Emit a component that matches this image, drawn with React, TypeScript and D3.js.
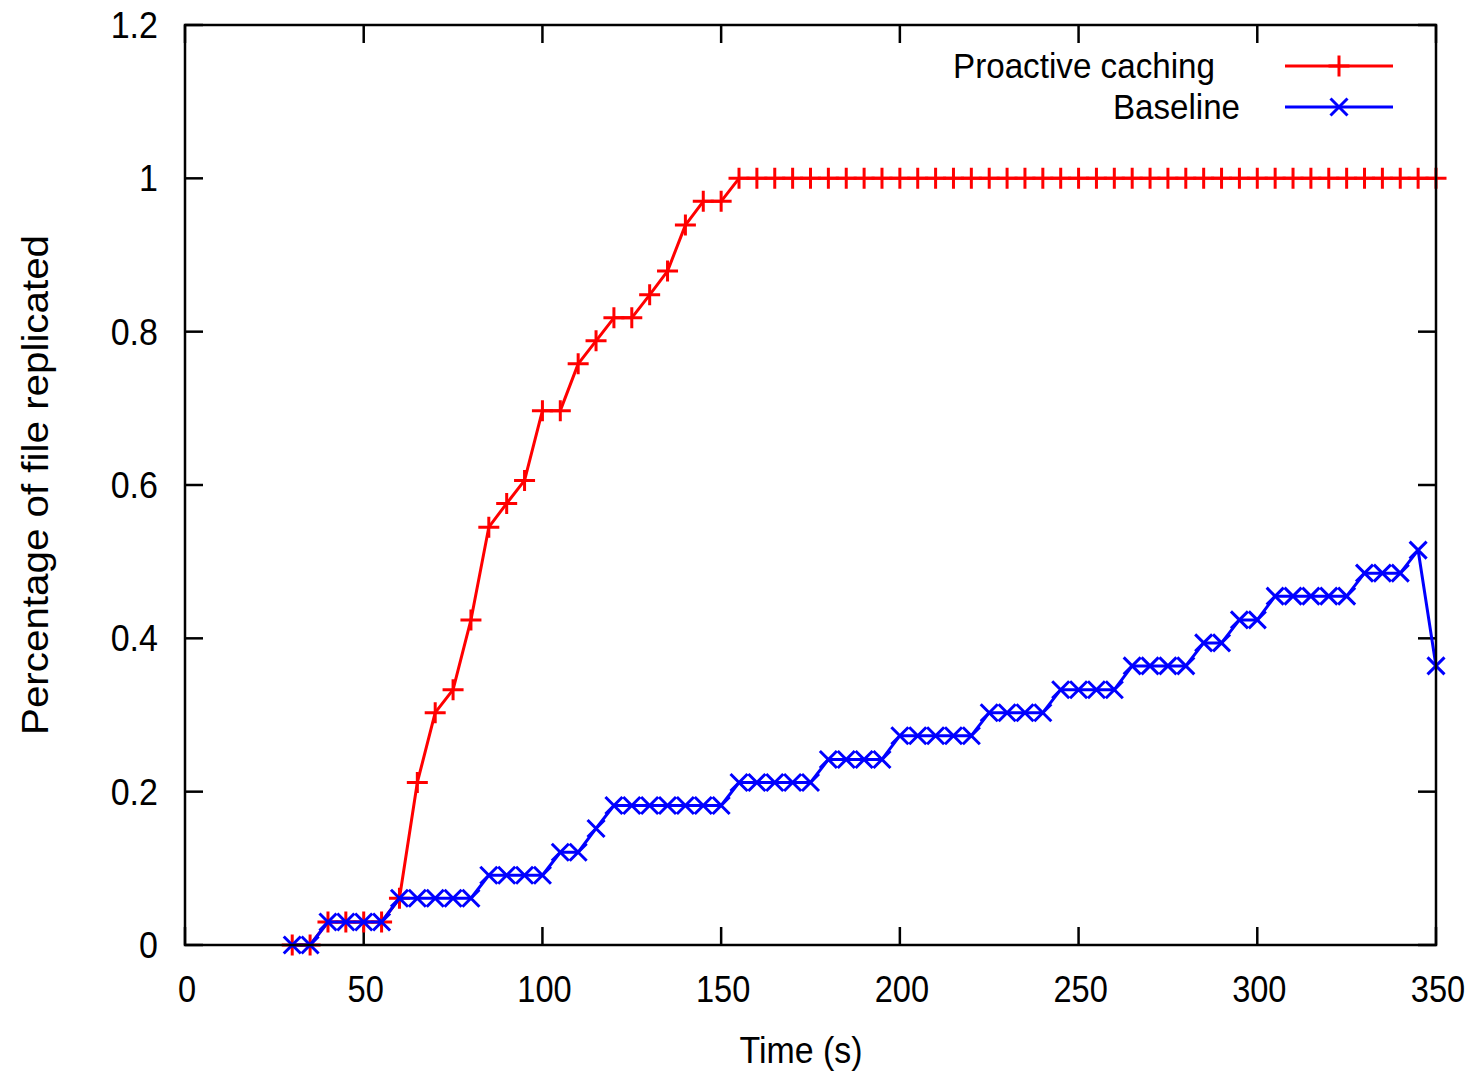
import React from "react";
import * as d3 from "d3";

const times = [30, 35, 40, 45, 50, 55, 60, 65, 70, 75, 80, 85, 90, 95, 100, 105, 110, 115, 120, 125, 130, 135, 140, 145, 150, 155, 160, 165, 170, 175, 180, 185, 190, 195, 200, 205, 210, 215, 220, 225, 230, 235, 240, 245, 250, 255, 260, 265, 270, 275, 280, 285, 290, 295, 300, 305, 310, 315, 320, 325, 330, 335, 340, 345, 350];

const proactive = [0, 0, 0.030, 0.030, 0.030, 0.030, 0.061, 0.212, 0.303, 0.333, 0.424, 0.545, 0.576, 0.606, 0.697, 0.697, 0.758, 0.788, 0.818, 0.818, 0.848, 0.879, 0.939, 0.970, 0.970, 1, 1, 1, 1, 1, 1, 1, 1, 1, 1, 1, 1, 1, 1, 1, 1, 1, 1, 1, 1, 1, 1, 1, 1, 1, 1, 1, 1, 1, 1, 1, 1, 1, 1, 1, 1, 1, 1, 1, 1];

const baseline = [0, 0, 0.030, 0.030, 0.030, 0.030, 0.061, 0.061, 0.061, 0.061, 0.061, 0.091, 0.091, 0.091, 0.091, 0.121, 0.121, 0.152, 0.182, 0.182, 0.182, 0.182, 0.182, 0.182, 0.182, 0.212, 0.212, 0.212, 0.212, 0.212, 0.242, 0.242, 0.242, 0.242, 0.273, 0.273, 0.273, 0.273, 0.273, 0.303, 0.303, 0.303, 0.303, 0.333, 0.333, 0.333, 0.333, 0.364, 0.364, 0.364, 0.364, 0.394, 0.394, 0.424, 0.424, 0.455, 0.455, 0.455, 0.455, 0.455, 0.485, 0.485, 0.485, 0.515, 0.364];

const xTicks = [0, 50, 100, 150, 200, 250, 300, 350];
const yTicks = [0, 0.2, 0.4, 0.6, 0.8, 1, 1.2];
const yTickLabels = ["0", "0.2", "0.4", "0.6", "0.8", "1", "1.2"];

const seriesNames = ["Proactive caching", "Baseline"];
const FONT = "'Liberation Sans', Arial, sans-serif";

export default function App() {
  const L = 185, R = 1436, T = 25, B = 945;
  const x = d3.scaleLinear().domain([0, 350]).range([L, R]);
  const y = d3.scaleLinear().domain([0, 1.2]).range([B, T]);
  const line = d3.line<number>().x((_, i) => x(times[i])).y((d) => y(d));
  const tickLen = 18;
  const plus = (cx: number, cy: number, k: string) => (
    <path key={k} d={`M${cx - 10.5},${cy}H${cx + 10.5}M${cx},${cy - 10.5}V${cy + 10.5}`} stroke="#ff0000" strokeWidth={3} fill="none" />
  );
  const cross = (cx: number, cy: number, k: string) => (
    <path key={k} d={`M${cx - 8.5},${cy - 8.5}L${cx + 8.5},${cy + 8.5}M${cx - 8.5},${cy + 8.5}L${cx + 8.5},${cy - 8.5}`} stroke="#0000ff" strokeWidth={3} fill="none" />
  );
  return (
    <svg width={1471} height={1073} style={{ position: "absolute", left: 0, top: 0, background: "#fff" }} fontFamily={FONT}>
      <rect x={0} y={0} width={1471} height={1073} fill="#fff" />
      {/* ticks */}
      {xTicks.map((t) => (
        <g key={"xt" + t}>
          <line x1={x(t)} x2={x(t)} y1={B} y2={B - tickLen} stroke="#000" strokeWidth={2.5} />
          <line x1={x(t)} x2={x(t)} y1={T} y2={T + tickLen} stroke="#000" strokeWidth={2.5} />
          <text transform={`translate(${x(t) + 2},1002) scale(0.88,1)`} fontSize={37} textAnchor="middle" fill="#000">{t}</text>
        </g>
      ))}
      {yTicks.map((t, i) => (
        <g key={"yt" + t}>
          <line x1={L} x2={L + tickLen} y1={y(t)} y2={y(t)} stroke="#000" strokeWidth={2.5} />
          <line x1={R} x2={R - tickLen} y1={y(t)} y2={y(t)} stroke="#000" strokeWidth={2.5} />
          <text transform={`translate(158,${y(t) + 13}) scale(0.92,1)`} fontSize={37} textAnchor="end" fill="#000">{yTickLabels[i]}</text>
        </g>
      ))}
      {/* data */}
      <path d={line(proactive) || ""} fill="none" stroke="#ff0000" strokeWidth={3} strokeLinejoin="round" />
      {proactive.map((v, i) => plus(x(times[i]), y(v), "p" + i))}
      <path d={line(baseline) || ""} fill="none" stroke="#0000ff" strokeWidth={3} strokeLinejoin="round" />
      {baseline.map((v, i) => cross(x(times[i]), y(v), "b" + i))}
      {/* frame */}
      <rect x={L} y={T} width={R - L} height={B - T} fill="none" stroke="#000" strokeWidth={2.5} />
      {/* axis titles */}
      <text x={801} y={1063} fontSize={36} textAnchor="middle" textLength={123} lengthAdjust="spacingAndGlyphs" fill="#000">Time (s)</text>
      <text transform="translate(48,485) rotate(-90)" x={0} y={0} fontSize={36} textAnchor="middle" textLength={500} lengthAdjust="spacingAndGlyphs" fill="#000">Percentage of file replicated</text>
      {/* legend */}
      <text x={1215} y={78} fontSize={35} textAnchor="end" textLength={262} lengthAdjust="spacingAndGlyphs" fill="#000">{seriesNames[0]}</text>
      <line x1={1285} x2={1393} y1={66} y2={66} stroke="#ff0000" strokeWidth={3} />
      {plus(1339, 66, "lp")}
      <text x={1240} y={119} fontSize={35} textAnchor="end" textLength={127} lengthAdjust="spacingAndGlyphs" fill="#000">{seriesNames[1]}</text>
      <line x1={1285} x2={1393} y1={107} y2={107} stroke="#0000ff" strokeWidth={3} />
      {cross(1339, 107, "lb")}
    </svg>
  );
}
